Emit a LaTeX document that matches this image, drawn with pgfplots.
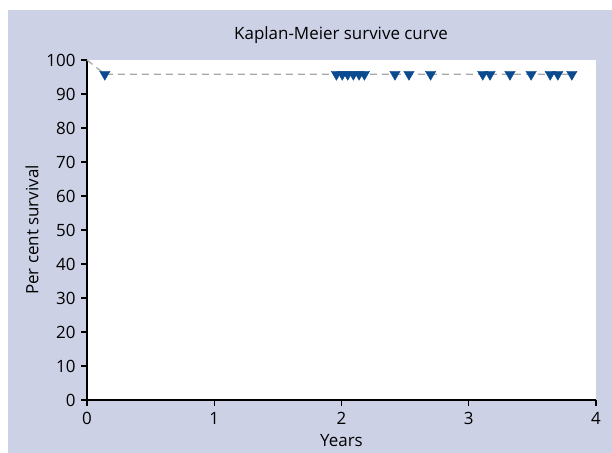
\documentclass[border=0pt]{standalone}
\usepackage{pgfplots}
\pgfplotsset{compat=1.18}
\usepackage{fontspec}
\setmainfont{Open Sans}
\definecolor{bg}{HTML}{CDD1E6}
\definecolor{kmblue}{HTML}{0A4A8F}
\definecolor{kmgray}{HTML}{A8A8A8}
\begin{document}
\begin{tikzpicture}[x=1bp,y=1bp]
\fill[white] (0,0) rectangle (612,453);
\fill[bg] (8,0) rectangle (612,443);
\useasboundingbox (0,0) rectangle (612,453);
\node[font=\fontsize{17}{19}\selectfont] at (341,418) {Kaplan-Meier survive curve};
\begin{axis}[
  at={(87bp,53bp)}, anchor=south west,
  scale only axis, width=509bp, height=340bp,
  xmin=0, xmax=4, ymin=0, ymax=100,
  axis background/.style={fill=white},
  axis x line=bottom, axis y line=left,
  axis line style={-, black, line width=1.2bp},
  tick style={black, line width=1.2bp},
  tick align=outside, major tick length=6bp,
  xtick={0,1,2,3,4}, ytick={0,10,...,100},
  /pgf/number format/assume math mode=true,
  tick label style={font=\fontsize{17}{19}\selectfont},
  label style={font=\fontsize{17}{19}\selectfont},
  xticklabel style={yshift=-3bp},
  yticklabel style={xshift=-2bp},
  xlabel={Years}, ylabel={Per cent survival},
  xlabel style={at={(axis description cs:0.5,-0.1206)}, anchor=center},
  ylabel style={at={(axis description cs:-0.108,0.5)}, anchor=center},
  clip=false,
]
\addplot[kmgray, line width=1.3bp, dash pattern=on 7bp off 5bp] coordinates {
  (0,100) (0.14,95.8) (3.81,95.8)
};
\addplot[only marks, mark=triangle*, mark size=6bp,
  mark options={rotate=180, fill=kmblue, draw=kmblue}] coordinates {
  (0.14,95.8)
  (1.96,95.8) (2.006,95.8) (2.049,95.8) (2.093,95.8) (2.138,95.8) (2.18,95.8)
  (2.42,95.8) (2.53,95.8) (2.70,95.8)
  (3.11,95.8) (3.167,95.8) (3.324,95.8) (3.49,95.8)
  (3.64,95.8) (3.70,95.8) (3.81,95.8)
};
\end{axis}
\end{tikzpicture}
\end{document}
